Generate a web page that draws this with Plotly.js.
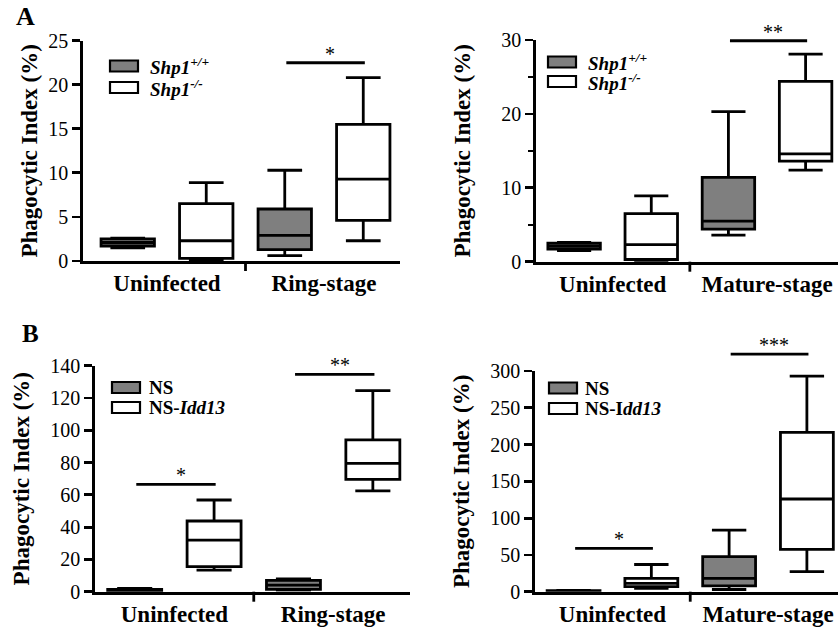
<!DOCTYPE html>
<html><head><meta charset="utf-8">
<script src="https://cdn.plot.ly/plotly-3.0.1.min.js"></script>
<style>html,body{margin:0;padding:0;background:#fff}#chart{width:838px;height:629px}</style>
</head><body><div id="chart"></div>
<script>
// ---------------- DATA ----------------
// each series: one [lower whisker, Q1, median, Q3, upper whisker] per category
const catsRing = ['Uninfected', 'Ring-stage'];
const catsMature = ['Uninfected', 'Mature-stage'];

// Panel A (Shp1)
const shpWT_ring = [[1.5, 1.7, 2.1, 2.5, 2.6], [0.6, 1.3, 2.9, 5.9, 10.3]];
const shpKO_ring = [[0.1, 0.3, 2.3, 6.5, 8.9], [2.3, 4.6, 9.3, 15.5, 20.8]];
const shpWT_mature = [[1.5, 1.7, 2.1, 2.5, 2.6], [3.6, 4.4, 5.5, 11.4, 20.3]];
const shpKO_mature = [[0.1, 0.3, 2.3, 6.5, 8.9], [12.4, 13.6, 14.6, 24.4, 28.1]];

// Panel B (NS vs NS-Idd13)
const ns_ring = [[0.2, 0.5, 1.0, 1.5, 2.0], [1.0, 1.5, 4.1, 7.0, 7.9]];
const idd_ring = [[13.4, 15.5, 32, 43.8, 56.8], [62.4, 69.6, 79.5, 94, 124.5]];
const ns_mature = [[0.3, 0.6, 1.0, 1.4, 1.8], [3.0, 7.9, 18, 47.6, 83.8]];
const idd_mature = [[4.5, 6.8, 11.3, 18, 37], [27.2, 57.5, 126, 216.6, 293]];

// legend names
const namesA = ['<b><i>Shp1<sup>+/+</sup></i></b>', '<b><i>Shp1<sup>-/-</sup></i></b>'];
const namesB1 = ['<b>NS</b>', '<b>NS-<i>Idd13</i></b>'];
const namesB2 = ['<b>NS</b>', '<b>NS-I<i>dd13</i></b>'];

// significance bars: category index, value, label
const sigA1Cat = [1], sigA1Val = [22.5], sigA1Lab = ['*'];
const sigA2Cat = [1], sigA2Val = [29.9], sigA2Lab = ['**'];
const sigB1Cat = [0, 1], sigB1Val = [66.5, 134.6], sigB1Lab = ['*', '**'];
const sigB2Cat = [0, 1], sigB2Val = [58.9, 323], sigB2Lab = ['*', '***'];

const yTitle = 'Phagocytic Index (%)';
const gray = '#7f7f7f', white = '#ffffff';

// ---------------- LAYOUT HELPERS ----------------
const W = 838, H = 629;
const F = 'Liberation Serif, Times New Roman, serif';
const LW = 2.8;
const px = x => x / W;
const py = y => 1 - y / H;

const panels = [
  {id: '', cats: catsRing, s: [shpWT_ring, shpKO_ring], names: namesA,
   xd: [83, 400], yd: [261, 40.7], xr: [-0.535, 1.484], yr: [0, 25], dtick: 5, minor: false, standoff: 5,
   sig: [sigA1Cat, sigA1Val, sigA1Lab], leg: {x0: 110, x1: 138, ys: [66, 87.5], tx: 148}},
  {id: '2', cats: catsMature, s: [shpWT_mature, shpKO_mature], names: namesA,
   xd: [536, 838], yd: [261.7, 40], xr: [-0.497, 1.46], yr: [0, 30], dtick: 10, minor: true, standoff: 25,
   sig: [sigA2Cat, sigA2Val, sigA2Lab], leg: {x0: 548, x1: 576, ys: [62, 81.5], tx: 586}},
  {id: '3', cats: catsRing, s: [ns_ring, idd_ring], names: namesB1,
   xd: [95, 410], yd: [591.7, 365.7], xr: [-0.5, 1.484], yr: [0, 140], dtick: 20, minor: false, standoff: 15,
   sig: [sigB1Cat, sigB1Val, sigB1Lab], leg: {x0: 112, x1: 140, ys: [387.5, 407.5], tx: 147}},
  {id: '4', cats: catsMature, s: [ns_mature, idd_mature], names: namesB2,
   xd: [535, 838], yd: [591.7, 371], xr: [-0.498, 1.45], yr: [0, 300], dtick: 50, minor: false, standoff: 15,
   sig: [sigB2Cat, sigB2Val, sigB2Lab], leg: {x0: 549, x1: 577, ys: [388, 408.5], tx: 583}}
];

const fills = [gray, white];
const traces = [], shapes = [], annotations = [];
const layout = {
  width: W, height: H, margin: {l: 0, r: 0, t: 0, b: 0},
  paper_bgcolor: '#fff', plot_bgcolor: 'rgba(0,0,0,0)',
  font: {family: F, color: '#000'},
  showlegend: false, boxmode: 'group', boxgap: 0, boxgroupgap: 0.32
};

panels.forEach((p, pi) => {
  const xa = 'x' + p.id, ya = 'y' + p.id;
  p.s.forEach((st, k) => {
    traces.push({
      type: 'box', name: p.names[k].replace(/<[^>]+>/g, ''), x: p.cats,
      lowerfence: st.map(v => v[0]), q1: st.map(v => v[1]), median: st.map(v => v[2]),
      q3: st.map(v => v[3]), upperfence: st.map(v => v[4]),
      alignmentgroup: 'panel' + pi, offsetgroup: 'series' + k,
      fillcolor: fills[k], line: {color: '#000', width: LW}, whiskerwidth: 0.65,
      boxpoints: false, xaxis: xa, yaxis: ya, hoverinfo: 'skip', showlegend: false
    });
  });
  const yh = p.yd[0] - p.yd[1];
  layout['xaxis' + p.id] = {
    domain: [px(p.xd[0]), px(p.xd[1])], anchor: ya, type: 'category', range: p.xr,
    showline: true, linecolor: '#000', linewidth: LW, ticks: '', showgrid: false, zeroline: false,
    tickfont: {family: F, size: 23, color: '#000', weight: 'bold'}, fixedrange: true
  };
  const yax = {
    domain: [py(p.yd[0]), py(p.yd[1])], anchor: xa, range: p.yr, tick0: 0, dtick: p.dtick,
    showline: true, linecolor: '#000', linewidth: LW, ticks: 'outside', ticklen: 8, tickwidth: LW,
    tickcolor: '#000', showgrid: false, zeroline: false, fixedrange: true,
    tickfont: {family: F, size: 20, color: '#000'},
    title: {text: yTitle, font: {family: F, size: 23, color: '#000', weight: 'bold'}, standoff: p.standoff}
  };
  if (p.minor) yax.minor = {dtick: p.dtick / 2, ticks: 'outside', ticklen: 5, tickwidth: 2.2, tickcolor: '#000', showgrid: false};
  layout['yaxis' + p.id] = yax;

  const fx = v => (v - p.xr[0]) / (p.xr[1] - p.xr[0]);
  // boundary tick between the two categories
  shapes.push({type: 'line', xref: xa + ' domain', yref: ya + ' domain', x0: fx(0.5), x1: fx(0.5),
    y0: 0, y1: -10 / yh, line: {color: '#000', width: LW}});
  // significance bars
  const [sc, sv, sl] = p.sig;
  sc.forEach((c, i) => {
    const yf = sv[i] / p.yr[1];
    shapes.push({type: 'line', xref: xa + ' domain', yref: ya + ' domain', x0: fx(c - 0.24), x1: fx(c + 0.26),
      y0: yf, y1: yf, line: {color: '#000', width: LW}});
    annotations.push({xref: xa + ' domain', yref: ya + ' domain', x: fx(c + 0.04), y: yf, yanchor: 'bottom',
      xanchor: 'center', text: sl[i], showarrow: false, font: {family: F, size: 20, color: '#000'}, yshift: -4});
  });
  // legend keys
  p.leg.ys.forEach((yc, k) => {
    shapes.push({type: 'rect', xref: 'paper', yref: 'paper', x0: px(p.leg.x0), x1: px(p.leg.x1),
      y0: py(yc + 5.5), y1: py(yc - 5.5), fillcolor: fills[k], line: {color: '#000', width: 2.2}});
    annotations.push({xref: 'paper', yref: 'paper', x: px(p.leg.tx), y: py(yc), xanchor: 'left', yanchor: 'middle',
      text: p.names[k], showarrow: false, font: {family: F, size: 19, color: '#000'}});
  });
});

annotations.push({xref: 'paper', yref: 'paper', x: px(25), y: py(17), xanchor: 'center', yanchor: 'middle',
  text: '<b>A</b>', showarrow: false, font: {family: F, size: 26, color: '#000'}});
annotations.push({xref: 'paper', yref: 'paper', x: px(31), y: py(333), xanchor: 'center', yanchor: 'middle',
  text: '<b>B</b>', showarrow: false, font: {family: F, size: 25, color: '#000'}});

layout.shapes = shapes;
layout.annotations = annotations;
Plotly.newPlot('chart', traces, layout, {staticPlot: true, displayModeBar: false});
</script>
</body></html>
